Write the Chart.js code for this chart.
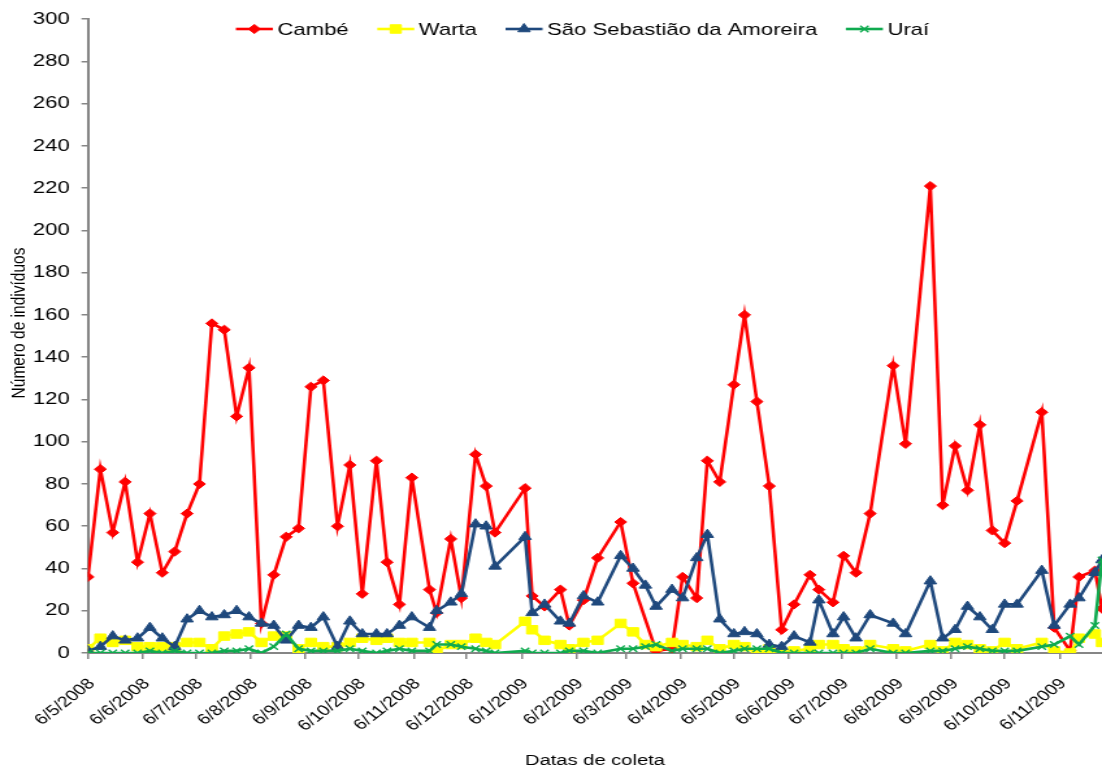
<!DOCTYPE html>
<html lang="pt-BR">
<head>
<meta charset="utf-8">
<title>Número de indivíduos por data de coleta</title>
<script src="https://cdn.jsdelivr.net/npm/chart.js@4.4.1/dist/chart.umd.min.js"></script>
<style>
  html, body { margin: 0; padding: 0; background: #fff; overflow: hidden; }
  /* o gráfico original é uma imagem do Excel esticada na horizontal */
  #wrap { width: 848px; height: 770px; transform: scaleX(1.2995); transform-origin: 0 0; }
</style>
</head>
<body>
<div id="wrap"><canvas id="grafico" width="848" height="770"></canvas></div>
<script>
// --- Dados ---
const datasColeta = [
    '6/5/2008', '13/5/2008', '20/5/2008', '27/5/2008', '3/6/2008', '10/6/2008', '17/6/2008', '24/6/2008',
    '1/7/2008', '8/7/2008', '15/7/2008', '22/7/2008', '29/7/2008', '5/8/2008', '12/8/2008', '19/8/2008',
    '26/8/2008', '2/9/2008', '9/9/2008', '16/9/2008', '24/9/2008', '1/10/2008', '8/10/2008', '16/10/2008',
    '22/10/2008', '29/10/2008', '5/11/2008', '15/11/2008', '19/11/2008', '27/11/2008', '3/12/2008', '11/12/2008',
    '17/12/2008', '22/12/2008', '8/1/2009', '12/1/2009', '19/1/2009', '28/1/2009', '2/2/2009', '10/2/2009',
    '18/2/2009', '3/3/2009', '10/3/2009', '17/3/2009', '23/3/2009', '1/4/2009', '7/4/2009', '15/4/2009',
    '21/4/2009', '28/4/2009', '6/5/2009', '12/5/2009', '19/5/2009', '26/5/2009', '2/6/2009', '9/6/2009',
    '18/6/2009', '23/6/2009', '1/7/2009', '7/7/2009', '14/7/2009', '22/7/2009', '4/8/2009', '11/8/2009',
    '25/8/2009', '1/9/2009', '8/9/2009', '15/9/2009', '22/9/2009', '29/9/2009', '6/10/2009', '13/10/2009',
    '27/10/2009', '3/11/2009', '12/11/2009', '17/11/2009', '26/11/2009', '30/11/2009'
];
const cambe = [
    36, 87, 57, 81, 43, 66, 38, 48, 66, 80, 156, 153, 112, 135, 14, 37, 55, 59, 126, 129,
    60, 89, 28, 91, 43, 23, 83, 30, 19, 54, 26, 94, 79, 57, 78, 27, 22, 30, 13, 25,
    45, 62, 33, null, 1, 2, 36, 26, 91, 81, 127, 160, 119, 79, 11, 23, 37, 30, 24, 46,
    38, 66, 136, 99, 221, 70, 98, 77, 108, 58, 52, 72, 114, 12, 1, 36, 39, 21
];
const warta = [
    2, 7, 5, 6, 3, 3, 3, 3, 5, 5, 2, 8, 9, 10, 5, 8, 8, 2, 5, 3,
    3, 5, 7, 6, 7, 5, 5, 5, 1, 4, 4, 7, 5, 4, 15, 11, 6, 4, 2, 5,
    6, 14, 10, 4, 3, 5, 4, 3, 6, 2, 4, 3, 0, 2, 0, 1, 2, 4, 4, 2,
    1, 4, 2, 1, 4, 1, 5, 4, 2, 1, 5, 2, 5, 1, 0, 7, 9, 5
];
const saoSebastiao = [
    1, 3, 8, 6, 7, 12, 7, 3, 16, 20, 17, 18, 20, 17, 14, 13, 6, 13, 12, 17,
    3, 15, 9, 9, 9, 13, 17, 12, 20, 24, 28, 61, 60, 41, 55, 19, 23, 15, 14, 27,
    24, 46, 40, 32, 22, 30, 26, 45, 56, 16, 9, 10, 9, 4, 3, 8, 5, 25, 9, 17,
    7, 18, 14, 9, 34, 7, 11, 22, 17, 11, 23, 23, 39, 13, 23, 26, 38, 44
];
const urai = [
    0, 0, 0, 0, 0, 1, 0, 1, 0, 0, 0, 1, 1, 2, 0, 3, 9, 2, 1, 1,
    1, 2, 1, 0, 1, 2, 1, 1, 4, 4, 3, 2, 1, 0, 1, 0, 0, 0, 1, 1,
    0, 2, 2, 3, 4, 1, 2, 2, 2, 0, 1, 2, 2, 2, 0, 0, 0, 0, 0, 0,
    0, 2, 0, 0, 1, 1, 2, 3, 2, 1, 1, 1, 3, 4, 8, 4, 13, 44
];
const rotulosMeses = [
    '6/5/2008', '6/6/2008', '6/7/2008', '6/8/2008', '6/9/2008', '6/10/2008', '6/11/2008',
    '6/12/2008', '6/1/2009', '6/2/2009', '6/3/2009', '6/4/2009', '6/5/2009', '6/6/2009',
    '6/7/2009', '6/8/2009', '6/9/2009', '6/10/2009', '6/11/2009'
];
const ticksY = { min: 0, max: 300, passo: 20 };

// dia zero = primeira data de coleta
const DIA_MS = 24 * 60 * 60 * 1000;
const paraDia = (texto) => {
    const [d, m, a] = texto.split('/').map(Number);
    return Math.round((Date.UTC(a, m - 1, d) - Date.UTC(2008, 4, 6)) / DIA_MS);
};
const diasColeta = datasColeta.map(paraDia);
const diasMeses = rotulosMeses.map(paraDia);

const serie = (valores) => valores.map((v, i) => ({ x: diasColeta[i], y: v }));

const FONTE = '"Liberation Sans", Arial, sans-serif';
Chart.defaults.font.family = FONTE;
Chart.defaults.color = '#000';

// Legenda estilo Excel (linha + marcador + texto) e título do eixo Y
const legendaLinhas = {
    id: 'legendaLinhas',
    afterDraw(chart) {
        const ctx = chart.ctx;
        const y = 29;
        let x = 181.5;
        ctx.save();
        ctx.font = '17px ' + FONTE;
        ctx.textBaseline = 'middle';
        chart.data.datasets.forEach(ds => {
            ctx.strokeStyle = ds.borderColor;
            ctx.lineWidth = ds.borderWidth;
            ctx.beginPath();
            ctx.moveTo(x, y);
            ctx.lineTo(x + 28.5, y);
            ctx.stroke();
            ctx.fillStyle = ds.pointBackgroundColor;
            ctx.strokeStyle = ds.pointBorderColor;
            ctx.lineWidth = ds.pointBorderWidth;
            Chart.helpers.drawPoint(ctx, { pointStyle: ds.pointStyle, radius: ds.pointRadius, borderWidth: ds.pointBorderWidth, rotation: 0 }, x + 14.25, y);
            ctx.fillStyle = '#000';
            ctx.fillText(ds.label, x + 32, y + 1);
            x += 32 + ctx.measureText(ds.label).width + 22;
        });

        // título do eixo Y
        ctx.font = '15.5px ' + FONTE;
        ctx.textAlign = 'center';
        ctx.translate(15, 323);
        ctx.rotate(-Math.PI / 2);
        ctx.fillText('Número de indivíduos', 0, 0);
        ctx.restore();
    }
};

const linha = (label, valores, cor, estilo, raio, ordem) => ({
    label,
    data: serie(valores),
    borderColor: cor,
    backgroundColor: cor,
    borderWidth: 2.6,
    pointStyle: estilo,
    pointRadius: raio,
    pointHoverRadius: raio,
    pointBackgroundColor: cor,
    pointBorderColor: cor,
    pointBorderWidth: estilo === 'crossRot' ? 1.4 : 1,
    tension: 0,
    spanGaps: true,
    order: ordem
});

new Chart(document.getElementById('grafico'), {
    type: 'line',
    data: {
        datasets: [
            linha('Cambé', cambe, '#FF0000', 'rectRot', 4.6, 3),
            linha('Warta', warta, '#FFFF00', 'rect', 6, 2),
            linha('São Sebastião da Amoreira', saoSebastiao, '#1F497D', 'triangle', 5.5, 1),
            linha('Uraí', urai, '#0FAA4F', 'crossRot', 4.5, 0)
        ]
    },
    options: {
        responsive: false,
        animation: false,
        layout: { autoPadding: false, padding: { top: 18.5, right: 0, bottom: 0, left: 0 } },
        plugins: {
            legend: { display: false },
            tooltip: { enabled: false }
        },
        scales: {
            x: {
                type: 'linear',
                min: 0,
                max: diasColeta[diasColeta.length - 1],
                afterBuildTicks: (scale) => { scale.ticks = diasMeses.map(v => ({ value: v })); },
                afterFit: (scale) => {
                    scale.height = 117;
                    scale.paddingLeft = 0;
                    scale.paddingRight = 0;
                },
                ticks: {
                    autoSkip: false,
                    minRotation: 45,
                    maxRotation: 45,
                    padding: 16,
                    labelOffset: 3,
                    font: { size: 15 },
                    callback: (value, i) => rotulosMeses[i]
                },
                grid: { drawOnChartArea: false, drawTicks: true, tickLength: 6, color: '#868686', lineWidth: 1.5 },
                border: { display: true, color: '#868686', width: 2 },
                title: { display: true, text: 'Datas de coleta', font: { size: 15.5 }, padding: { top: 0, bottom: 0 } }
            },
            y: {
                min: ticksY.min,
                max: ticksY.max,
                afterFit: (scale) => { scale.width = 67.7; },
                ticks: { stepSize: ticksY.passo, padding: 9, font: { size: 17 } },
                grid: { drawOnChartArea: false, drawTicks: true, tickLength: 5, color: '#868686', lineWidth: 1.5 },
                border: { display: true, color: '#868686', width: 2 },
                title: { display: false }
            }
        }
    },
    plugins: [legendaLinhas]
});
</script>
</body>
</html>
